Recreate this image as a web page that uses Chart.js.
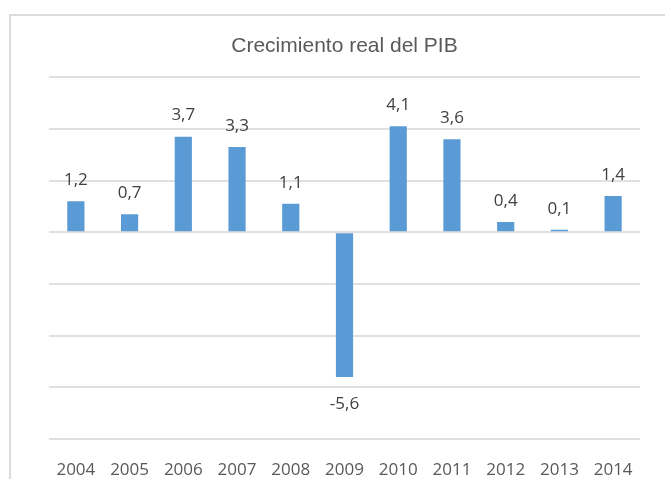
<!DOCTYPE html>
<html>
<head>
<meta charset="utf-8">
<script src="https://cdn.jsdelivr.net/npm/chart.js@4"></script>
<style>
  html, body { margin: 0; padding: 0; background: #fff; }
  #wrap { width: 665px; height: 479px; position: relative; }
</style>
</head>
<body>
<div id="wrap"><canvas id="pib" width="665" height="479"></canvas></div>
<script>
// Chart data
const years = ['2004', '2005', '2006', '2007', '2008', '2009', '2010', '2011', '2012', '2013', '2014'];
const growth = [1.2, 0.7, 3.7, 3.3, 1.1, -5.6, 4.1, 3.6, 0.4, 0.1, 1.4];
const chartTitle = 'Crecimiento real del PIB';

// Excel-like frame (left and top edges only are visible)
const framePlugin = {
    id: 'frame',
    beforeDraw(chart) {
        const ctx = chart.ctx;
        ctx.save();
        ctx.strokeStyle = '#dcdcdc';
        ctx.lineWidth = 2;
        ctx.beginPath();
        ctx.moveTo(10, 479);
        ctx.lineTo(10, 15);
        ctx.lineTo(665, 15);
        ctx.stroke();
        ctx.restore();
    }
};

// Value labels above positive bars, below negative ones
const valueLabels = {
    id: 'valueLabels',
    afterDatasetsDraw(chart) {
        const ctx = chart.ctx;
        const meta = chart.getDatasetMeta(0);
        ctx.save();
        ctx.font = '17px "Open Sans"';
        ctx.fillStyle = '#404040';
        ctx.textAlign = 'center';
        ctx.textBaseline = 'middle';
        meta.data.forEach((bar, i) => {
            const v = growth[i];
            const txt = v.toFixed(1).replace('.', ',');
            const y = v >= 0 ? bar.y - 21 : bar.y + 27;
            ctx.fillText(txt, bar.x, y);
        });
        ctx.restore();
    }
};

const ctx = document.getElementById('pib').getContext('2d');
new Chart(ctx, {
    type: 'bar',
    data: {
        labels: years,
        datasets: [{
            label: 'PIB',
            data: growth,
            backgroundColor: '#5b9bd5',
            borderWidth: 0,
            categoryPercentage: 1,
            barPercentage: 0.32
        }]
    },
    options: {
        responsive: false,
        animation: false,
        layout: {
            padding: { left: 49, right: 25, top: 0, bottom: 0 }
        },
        plugins: {
            legend: { display: false },
            tooltip: { enabled: false },
            title: {
                display: true,
                text: chartTitle,
                color: '#595959',
                font: { family: '"Liberation Sans", Arial, sans-serif', size: 21, weight: 'normal' },
                padding: { top: 34, bottom: 18 }
            }
        },
        scales: {
            x: {
                grid: { display: false, drawTicks: false },
                border: { display: false },
                ticks: {
                    color: '#595959',
                    padding: 21,
                    maxRotation: 0,
                    font: { family: '"Open Sans"', size: 17 }
                },
                afterFit(scale) { scale.height = 40; }
            },
            y: {
                min: -8,
                max: 6,
                ticks: { display: false, stepSize: 2 },
                border: { display: false },
                grid: { color: '#e0e0e0', lineWidth: 2, drawTicks: false }
            }
        }
    },
    plugins: [framePlugin, valueLabels]
});
</script>
</body>
</html>
